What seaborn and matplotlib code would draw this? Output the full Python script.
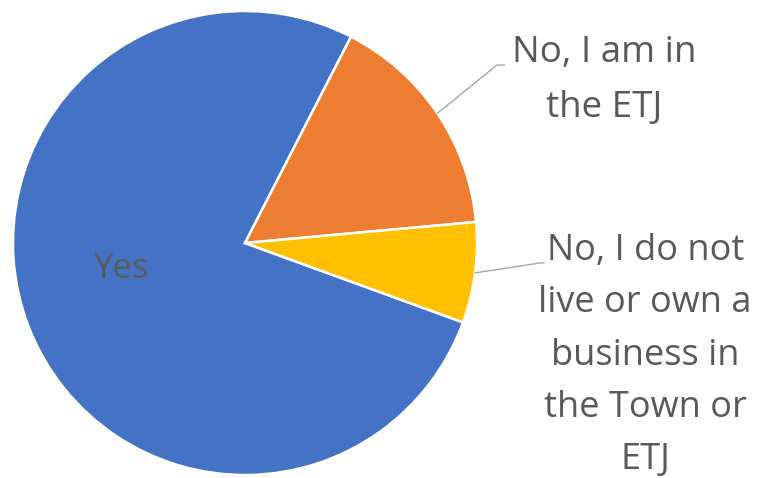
import numpy as np
import matplotlib
matplotlib.use("Agg")
import matplotlib.pyplot as plt
import seaborn as sns

categories = ["Yes", "No, I am in\nthe ETJ", "No, I do not\nlive or own a\nbusiness in\nthe Town or\nETJ"]
values = [77, 16, 7]
colors = ["#4472C4", "#ED7D31", "#FFC000"]

sns.set_theme(style="white")
plt.rcParams['font.family'] = ['Open Sans', 'DejaVu Sans']

W, H = 761, 478
fig = plt.figure(figsize=(W / 100, H / 100), dpi=100)
cx, cy, R = 245, 243, 232
ax = fig.add_axes([(cx - R) / W, (H - cy - R) / H, 2 * R / W, 2 * R / H])
wedges, _ = ax.pie(values, colors=colors, startangle=-20, counterclock=False,
                   radius=1.0, wedgeprops=dict(edgecolor="white", linewidth=1.8))
ax.set_xlim(-1, 1)
ax.set_ylim(-1, 1)
ax.set_aspect("equal")
ax.axis("off")

txt_color = "#595959"
ax.text(-0.535, -0.11, categories[0], ha="center", va="center",
        fontsize=25, color=txt_color)

# outer labels with leader lines
label_pos = [None, (1.55, 0.70), (1.725, -0.485)]
spacing = [None, 1.73, 1.6]
sizes = [None, 26.5, 26]
elbow = [None, (1.086, 0.767), (1.272, -0.086)]
end = [None, (1.12, 0.767), (1.29, -0.086)]
for i in (1, 2):
    w = wedges[i]
    mid = np.deg2rad((w.theta1 + w.theta2) / 2)
    sx, sy = np.cos(mid), np.sin(mid)
    ax.plot([sx, elbow[i][0], end[i][0]], [sy, elbow[i][1], end[i][1]],
            color="#A6A6A6", lw=1.0, clip_on=False)
    ax.text(label_pos[i][0], label_pos[i][1], categories[i], ha="center", va="center",
            fontsize=sizes[i], color=txt_color, linespacing=spacing[i], clip_on=False)

fig.savefig("out.png", dpi=100)
